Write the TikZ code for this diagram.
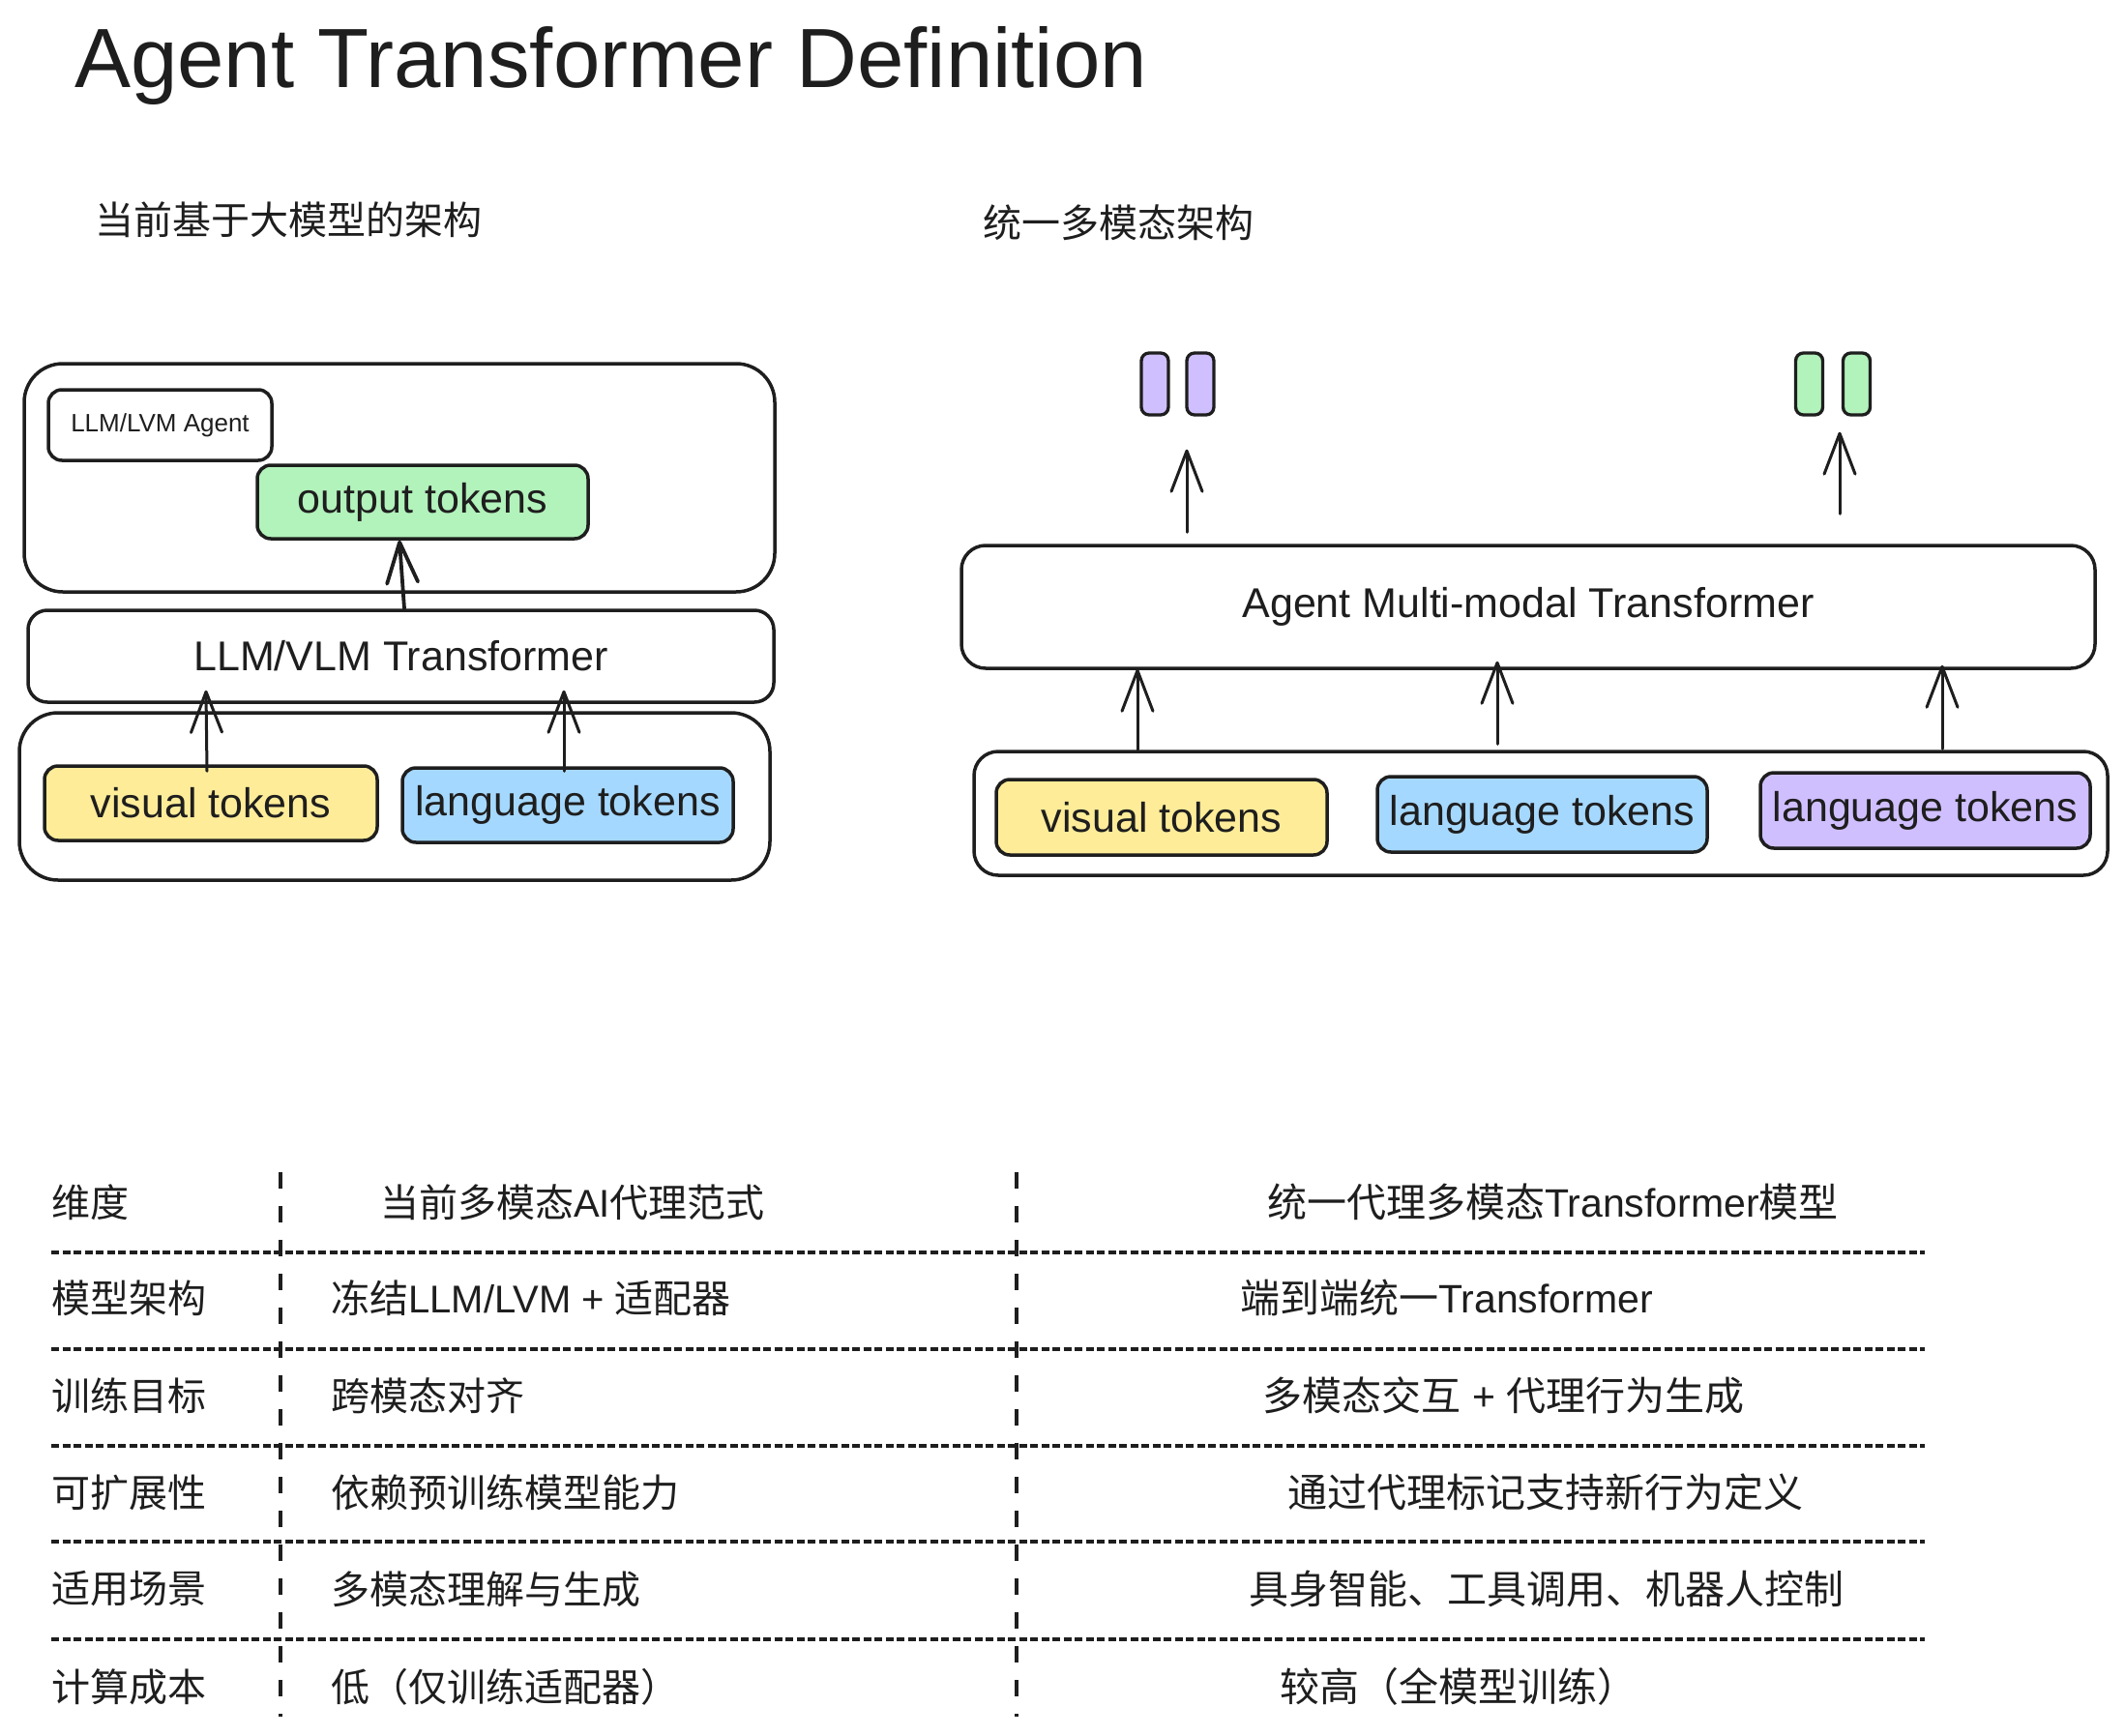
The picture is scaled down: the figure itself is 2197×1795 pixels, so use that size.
\documentclass[tikz,border=0pt]{standalone}
\usepackage{fontspec}
\setmainfont{Liberation Sans}
\newfontfamily\cjkf{Noto Sans CJK SC}
\newcommand\latn[1]{{\rmfamily #1}}
\usetikzlibrary{arrows.meta}
\definecolor{ink}{HTML}{1E1E1E}
\definecolor{fyel}{HTML}{FFEC99}
\definecolor{fblu}{HTML}{A5D8FF}
\definecolor{fgrn}{HTML}{B2F2BB}
\definecolor{fpur}{HTML}{D0BFFF}
\tikzset{
 box/.style={draw=ink, line width=3.5pt, rounded corners=#1, inner sep=0pt, text=ink},
 box/.default=14pt,
 lbl/.style={font=\fontsize{43}{50}\selectfont},
 arr/.style={draw=ink, line width=3pt, line cap=round, -{Straight Barb[length=42pt,width=32pt,round]}},
 tline/.style={draw=ink, line width=3.3pt, dash pattern=on 8pt off 3.5pt},
 vline/.style={draw=ink, line width=3.3pt, dash pattern=on 17pt off 18pt},
 cell/.style={text=ink, font=\fontsize{40}{48}\selectfont\cjkf, inner sep=0pt},
 cellb/.style={text=ink, font=\fontsize{41}{48}\selectfont\cjkf, inner sep=0pt},
}
\begin{document}
\begin{tikzpicture}[x=1pt,y=-1pt]
\fill[white] (0,0) rectangle (2197,1795);
\useasboundingbox (0,0) rectangle (2197,1795);

% title and headings
\node[anchor=base west, text=ink, font=\fontsize{87}{100}\selectfont, inner sep=0pt] (title) at (77,91) {Agent Transformer Definition};
\node[cell, anchor=west] (h1) at (98,227) {当前基于大模型的架构};
\node[cell, anchor=west] (h2) at (1016,230) {统一多模态架构};

% left diagram
\node[box=40pt, minimum width=776pt, minimum height=236pt] (agentC) at (413,494) {};
\node[box, minimum width=231pt, minimum height=73pt, font=\fontsize{26}{30}\selectfont] (agentL) at (165.5,439.5) {LLM/LVM Agent};
\node[box, fill=fgrn, minimum width=342pt, minimum height=76pt, lbl] (out) at (437,519) {output tokens};
\node[box=20pt, minimum width=771pt, minimum height=95pt, lbl] (llm) at (414.5,678.5) {LLM/VLM Transformer};
\node[box=40pt, minimum width=776pt, minimum height=173pt] (inC) at (408,823.5) {};
\node[box, fill=fyel, minimum width=344pt, minimum height=77pt, lbl] (vt) at (218,830.5) {visual tokens};
\node[box, fill=fblu, minimum width=342pt, minimum height=77pt, lbl] (lt) at (587,832.5) {language tokens};

\draw[arr, line width=3.8pt] ([xshift=3.5pt]llm.north) -- ([xshift=-24pt]out.south);
\draw[arr] ([xshift=-4pt,yshift=-7pt]vt.north) -- ([xshift=-201.5pt,yshift=14pt]llm.south);
\draw[arr] ([xshift=-4pt,yshift=-5pt]lt.north) -- ([xshift=168.5pt,yshift=14pt]llm.south);

% right diagram
\node[box=25pt, minimum width=1172pt, minimum height=127pt, lbl] (amt) at (1580,627.5) {Agent Multi-modal Transformer};
\node[box=25pt, minimum width=1172pt, minimum height=128pt] (inC2) at (1593,841) {};
\node[box, fill=fyel, minimum width=342pt, minimum height=78pt, lbl] (vt2) at (1201,845) {visual tokens};
\node[box, fill=fblu, minimum width=341pt, minimum height=78pt, lbl] (lt2) at (1594.5,842) {language tokens};
\node[box, fill=fpur, minimum width=341pt, minimum height=78pt, lbl] (pt2) at (1990.5,838) {language tokens};
\node[box=8pt, fill=fpur, line width=3.3pt, minimum width=28pt, minimum height=64pt] (p1) at (1194,397) {};
\node[box=8pt, fill=fpur, line width=3.3pt, minimum width=28pt, minimum height=64pt] (p2) at (1241,397) {};
\node[box=8pt, fill=fgrn, line width=3.3pt, minimum width=28pt, minimum height=64pt] (g1) at (1870.5,397) {};
\node[box=8pt, fill=fgrn, line width=3.3pt, minimum width=28pt, minimum height=64pt] (g2) at (1919.5,397) {};

\draw[arr] ([xshift=-417pt]inC2.north) -- ([xshift=-404pt,yshift=1pt]amt.south);
\draw[arr] ([xshift=-45pt,yshift=6pt]inC2.north) -- ([xshift=-32pt,yshift=9pt]amt.south);
\draw[arr] ([xshift=415pt,yshift=1pt]inC2.north) -- ([xshift=428pt,yshift=5pt]amt.south);
\draw[arr] ([xshift=-353pt,yshift=12pt]amt.north) -- ([xshift=-14pt,yshift=-34pt]p2.south);
\draw[arr] ([xshift=322pt,yshift=31pt]amt.north) -- ([xshift=-17.5pt,yshift=-16pt]g2.south);

% table grid
\foreach \yy in {1295,1395,1495,1594,1695} \draw[tline] (53,\yy) -- (1990,\yy);
\draw[vline] (290,1212) -- (290,1775);
\draw[vline] (1051,1212) -- (1051,1775);

% column 1
\node[cell, anchor=west] (c11) at (53,1243) {维度};
\node[cell, anchor=west] (c12) at (53,1342) {模型架构};
\node[cell, anchor=west] (c13) at (53,1443) {训练目标};
\node[cell, anchor=west] (c14) at (53,1543) {可扩展性};
\node[cell, anchor=west] (c15) at (53,1643) {适用场景};
\node[cell, anchor=west] (c16) at (53,1744) {计算成本};
% column 2
\node[cell] (c21) at (592,1243) {当前多模态\latn{AI}代理范式};
\node[cell, anchor=west] (c22) at (342,1342) {冻结\latn{LLM/LVM + }适配器};
\node[cell, anchor=west] (c23) at (342,1443) {跨模态对齐};
\node[cell, anchor=west] (c24) at (342,1543) {依赖预训练模型能力};
\node[cell, anchor=west] (c25) at (342,1643) {多模态理解与生成};
\node[cell, anchor=west] (c26) at (342,1744) {低（仅训练适配器）};
% column 3
\node[cellb] (c31) at (1605.5,1243) {统一代理多模态\latn{Transformer}模型};
\node[cellb] (c32) at (1495.5,1342) {端到端统一\latn{Transformer}};
\node[cellb] (c33) at (1554.5,1443) {多模态交互\latn{ + }代理行为生成};
\node[cellb] (c34) at (1598,1543) {通过代理标记支持新行为定义};
\node[cellb] (c35) at (1599,1643) {具身智能、工具调用、机器人控制};
\node[cellb] (c36) at (1507.5,1744) {较高（全模型训练）};
\end{tikzpicture}
\end{document}
